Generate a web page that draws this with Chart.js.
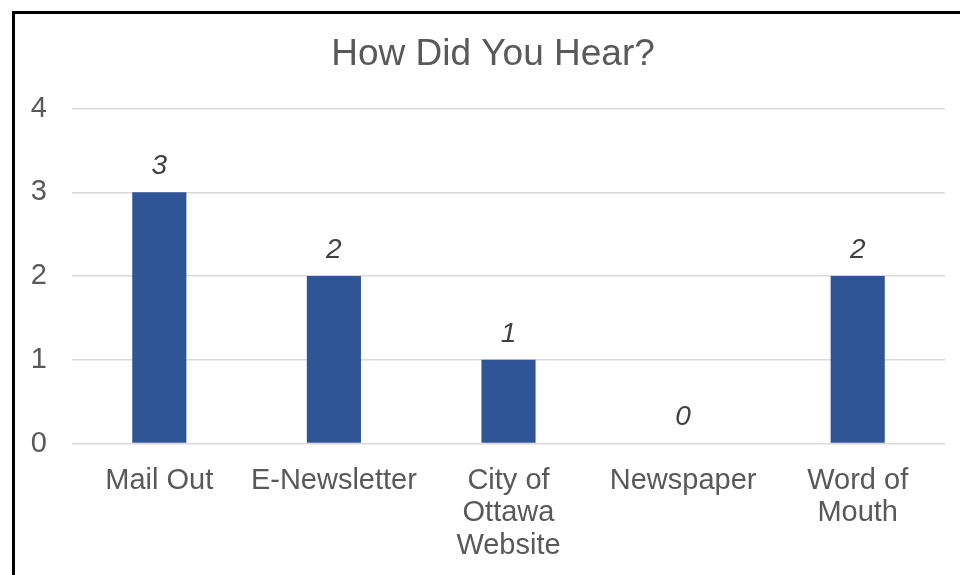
<!DOCTYPE html>
<html>
<head>
<meta charset="utf-8">
<script src="https://cdn.jsdelivr.net/npm/chart.js@4/dist/chart.umd.min.js"></script>
<style>
    html, body { margin: 0; padding: 0; background: #fff; }
    #wrap { position: relative; width: 960px; height: 575px; overflow: hidden; }
    #frame {
        position: absolute; left: 12px; top: 11px;
        width: 1000px; height: 700px;
        border: 3px solid #000; box-sizing: border-box;
    }
    #box { position: absolute; left: 0; top: 0; width: 960px; height: 575px; }
</style>
</head>
<body>
<div id="wrap">
    <div id="frame"></div>
    <div id="box"><canvas id="hearChart"></canvas></div>
</div>
<script>
// How Did You Hear? - bar chart

const TITLE = 'How Did You Hear?';
const CATEGORIES = [
    ['Mail Out'],
    ['E-Newsletter'],
    ['City of', 'Ottawa', 'Website'],
    ['Newspaper'],
    ['Word of', 'Mouth'],
];
const COUNTS = [3, 2, 1, 0, 2];
const Y_TICKS = [0, 1, 2, 3, 4];

const FONT = "'Liberation Sans', Arial, sans-serif";
const TEXT_GREY = '#595959';
const BAR_BLUE = '#2F5597';

// value labels above each bar (italic, like the Excel original)
const valueLabels = {
    id: 'valueLabels',
    afterDatasetsDraw(chart) {
        const ctx = chart.ctx;
        const meta = chart.getDatasetMeta(0);
        ctx.save();
        ctx.font = 'italic 28px ' + FONT;
        ctx.fillStyle = '#404040';
        ctx.textAlign = 'center';
        ctx.textBaseline = 'middle';
        meta.data.forEach((bar, i) => {
            ctx.fillText(String(COUNTS[i]), bar.x, bar.y - 26);
        });
        ctx.restore();
    }
};

// title sits a little right of the canvas centre, as in the original frame
const frameTitle = {
    id: 'frameTitle',
    afterDraw(chart) {
        const ctx = chart.ctx;
        ctx.save();
        ctx.font = '37px ' + FONT;
        ctx.fillStyle = TEXT_GREY;
        ctx.textAlign = 'center';
        ctx.textBaseline = 'alphabetic';
        ctx.fillText(TITLE, 493, 65);
        ctx.restore();
    }
};

new Chart(document.getElementById('hearChart'), {
    type: 'bar',
    data: {
        labels: CATEGORIES,
        datasets: [{
            data: COUNTS,
            backgroundColor: BAR_BLUE,
            borderWidth: 0,
            barPercentage: 0.31,
            categoryPercentage: 1.0,
        }]
    },
    options: {
        responsive: true,
        maintainAspectRatio: false,
        animation: false,
        layout: { padding: { left: 0, right: 15, top: 108.5, bottom: 0 } },
        scales: {
            x: {
                grid: { display: false, drawTicks: false },
                border: { display: false },
                ticks: {
                    color: TEXT_GREY,
                    font: { family: FONT, size: 29, lineHeight: 1.12 },
                    padding: 21,
                    maxRotation: 0,
                    autoSkip: false,
                },
                afterFit(scale) { scale.height = 131.5; }
            },
            y: {
                min: Y_TICKS[0],
                max: Y_TICKS[Y_TICKS.length - 1],
                grid: { color: '#d9d9d9', lineWidth: 1.5, drawTicks: false },
                border: { display: false },
                ticks: {
                    stepSize: 1,
                    color: TEXT_GREY,
                    font: { family: FONT, size: 29 },
                    padding: 25,
                },
                afterFit(scale) { scale.width = 72; }
            }
        },
        plugins: {
            legend: { display: false },
            tooltip: { enabled: false },
            title: { display: false }
        }
    },
    plugins: [valueLabels, frameTitle]
});
</script>
</body>
</html>
